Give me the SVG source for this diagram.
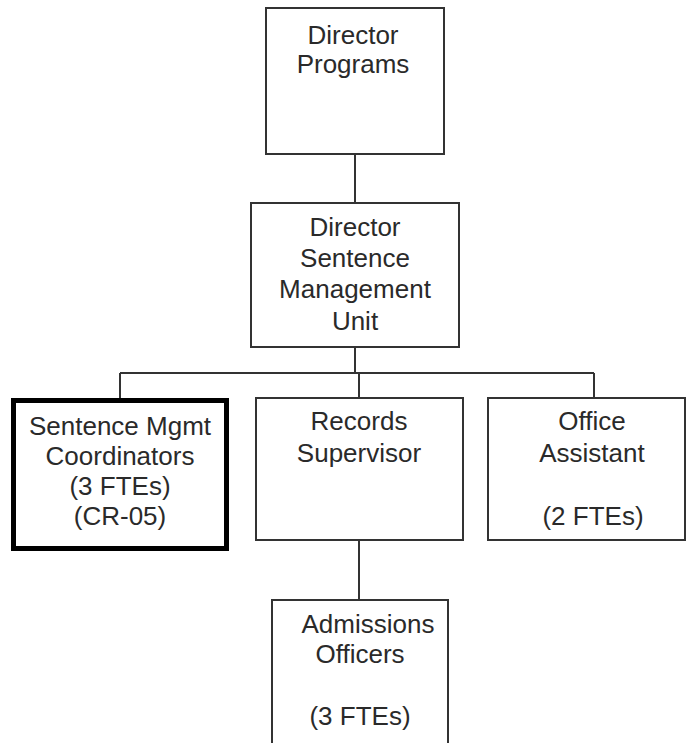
<svg xmlns="http://www.w3.org/2000/svg" width="687" height="743" viewBox="0 0 687 743">
<style>
.box{fill:#fff;stroke:#333;stroke-width:2}
.thick{fill:#fff;stroke:#000;stroke-width:5}
.conn{fill:none;stroke:#333;stroke-width:2}
text{font-family:"Liberation Sans",Arial,sans-serif;font-size:26px;fill:#2a2a2a;text-anchor:middle}
</style>
<rect width="687" height="743" fill="#fff"/>
<g id="connectors">
<path class="conn" d="M355 154V203M355 347V373M120 373H594M120 373V398M359 373V398M594 373V398M359 540V600"/>
</g>
<g id="director-programs">
<rect class="box" x="266" y="8" width="178" height="146"/>
<text x="353" y="44">Director</text>
<text x="353" y="73">Programs</text>
</g>
<g id="director-smu">
<rect class="box" x="251" y="203" width="208" height="144"/>
<text x="355" y="236">Director</text>
<text x="355" y="267">Sentence</text>
<text x="355" y="298">Management</text>
<text x="355" y="330">Unit</text>
</g>
<g id="smc">
<rect class="thick" x="13.5" y="400.5" width="213" height="148"/>
<text x="120" y="435">Sentence Mgmt</text>
<text x="120" y="465">Coordinators</text>
<text x="120" y="495">(3 FTEs)</text>
<text x="120" y="525">(CR-05)</text>
</g>
<g id="records-supervisor">
<rect class="box" x="256" y="398" width="207" height="142"/>
<text x="359" y="430">Records</text>
<text x="359" y="462">Supervisor</text>
</g>
<g id="office-assistant">
<rect class="box" x="488" y="398" width="197" height="142"/>
<text x="592" y="430">Office</text>
<text x="592" y="462">Assistant</text>
<text x="593" y="525">(2 FTEs)</text>
</g>
<g id="admissions-officers">
<rect class="box" x="272" y="600" width="176" height="150"/>
<text x="368" y="633">Admissions</text>
<text x="360" y="663">Officers</text>
<text x="360" y="725">(3 FTEs)</text>
</g>
</svg>
